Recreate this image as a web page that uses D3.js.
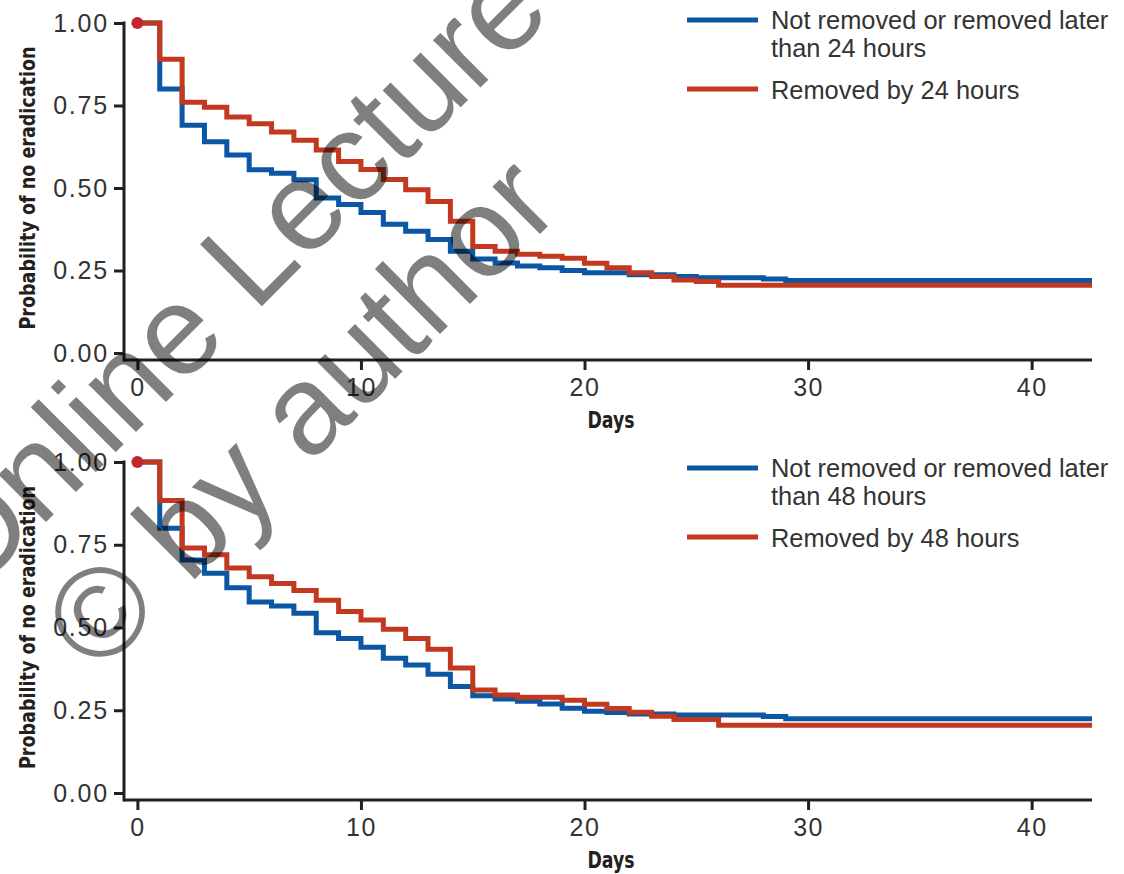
<!DOCTYPE html>
<html>
<head>
<meta charset="utf-8">
<script src="https://cdn.jsdelivr.net/npm/d3@7"></script>
<style>
  body { margin: 0; background: #fff; }
  svg { display: block; }
</style>
</head>
<body>
<div id="chart"></div>
<script>
// Kaplan-Meier step data (one value per day, 0..29)
const days = [0, 1, 2, 3, 4, 5, 6, 7, 8, 9, 10, 11, 12, 13, 14, 15, 16, 17, 18, 19, 20, 21, 22, 23, 24, 25, 26, 27, 28, 29];
const followUpEnd = 42.7;

const notRemoved24 = [1.00, 0.80, 0.69, 0.64, 0.60, 0.555, 0.545, 0.525, 0.47, 0.45, 0.426, 0.39, 0.369, 0.344, 0.308,
  0.285, 0.273, 0.264, 0.258, 0.25, 0.243, 0.243, 0.237, 0.237, 0.232, 0.228, 0.228, 0.228, 0.224, 0.22];
const removed24 = [1.00, 0.89, 0.76, 0.745, 0.715, 0.695, 0.67, 0.645, 0.615, 0.58, 0.556, 0.526, 0.495, 0.459, 0.399,
  0.323, 0.308, 0.299, 0.293, 0.287, 0.272, 0.258, 0.243, 0.232, 0.221, 0.217, 0.205, 0.205, 0.205, 0.205];

const notRemoved48 = [1.00, 0.80, 0.704, 0.664, 0.62, 0.577, 0.565, 0.543, 0.484, 0.467, 0.44, 0.407, 0.387, 0.359, 0.322,
  0.294, 0.284, 0.277, 0.269, 0.256, 0.247, 0.243, 0.239, 0.239, 0.236, 0.236, 0.236, 0.236, 0.231, 0.224];
const removed48 = [1.00, 0.884, 0.74, 0.72, 0.68, 0.653, 0.633, 0.612, 0.582, 0.548, 0.523, 0.495, 0.467, 0.434, 0.378,
  0.311, 0.296, 0.289, 0.289, 0.28, 0.268, 0.255, 0.244, 0.232, 0.222, 0.222, 0.205, 0.205, 0.205, 0.205];

const yTicks = [0, 0.25, 0.5, 0.75, 1];
const xTicks = [0, 10, 20, 30, 40];
const legend24 = ["Not removed or removed later", "than 24 hours", "Removed by 24 hours"];
const legend48 = ["Not removed or removed later", "than 48 hours", "Removed by 48 hours"];

const width = 1124, height = 874;
const blue = "#0b57a3", red = "#c2391f", ink = "#231f20";

const svg = d3.select("#chart").append("svg")
  .attr("width", width)
  .attr("height", height);

const x = d3.scaleLinear().domain([0, followUpEnd]).range([137.4, 1092]);

function toSteps(vals) {
  const pts = days.map((d, i) => [d, vals[i]]);
  pts.push([followUpEnd, vals[vals.length - 1]]);
  return pts;
}

function panel(top, bottom, axisY, legendDy, series, labels) {
  const y = d3.scaleLinear().domain([0, 1]).range([bottom, top]);
  const g = svg.append("g");

  // y axis
  const yAxis = g.append("g")
    .attr("transform", "translate(124,0)")
    .call(d3.axisLeft(y).tickValues(yTicks).tickFormat(d3.format(".2f")).tickSize(10).tickPadding(5));
  yAxis.select(".domain").remove();
  yAxis.selectAll(".tick line").attr("stroke", ink).attr("stroke-width", 3);
  yAxis.selectAll(".tick text")
    .attr("fill", "#333")
    .style("font-family", "'Liberation Sans', Arial, sans-serif")
    .style("font-size", "25px")
    .style("letter-spacing", "1.8px");
  g.append("line")
    .attr("x1", 124).attr("x2", 124)
    .attr("y1", y(1) - 1.5).attr("y2", axisY + 1.5)
    .attr("stroke", ink).attr("stroke-width", 3);

  // x axis
  const xAxis = g.append("g")
    .attr("transform", `translate(0,${axisY})`)
    .call(d3.axisBottom(x).tickValues(xTicks).tickSize(10).tickPadding(8));
  xAxis.select(".domain").remove();
  xAxis.selectAll(".tick line").attr("stroke", ink).attr("stroke-width", 3);
  xAxis.selectAll(".tick text")
    .attr("fill", "#333")
    .style("font-family", "'Liberation Sans', Arial, sans-serif")
    .style("font-size", "25px")
    .style("letter-spacing", "1.5px");
  g.append("line")
    .attr("x1", 124).attr("x2", x(followUpEnd))
    .attr("y1", axisY).attr("y2", axisY)
    .attr("stroke", ink).attr("stroke-width", 3);

  // titles
  g.append("text")
    .attr("transform", `translate(35,${y(0.5)}) rotate(-90)`)
    .attr("text-anchor", "middle")
    .attr("textLength", 283)
    .attr("lengthAdjust", "spacingAndGlyphs")
    .attr("fill", ink)
    .style("font-family", "'Liberation Sans Narrow', 'DejaVu Sans Condensed', sans-serif")
    .style("font-weight", "bold")
    .style("font-size", "21px")
    .text("Probability of no eradication");
  g.append("text")
    .attr("x", 611).attr("y", axisY + 68)
    .attr("text-anchor", "middle")
    .attr("textLength", 47)
    .attr("lengthAdjust", "spacingAndGlyphs")
    .attr("fill", ink)
    .style("font-family", "'Liberation Sans Narrow', 'DejaVu Sans Condensed', sans-serif")
    .style("font-weight", "bold")
    .style("font-size", "23px")
    .text("Days");

  // curves
  const line = d3.line().x(d => x(d[0])).y(d => y(d[1])).curve(d3.curveStepAfter);
  series.forEach(s => {
    g.append("path")
      .datum(toSteps(s.values))
      .attr("d", line)
      .attr("fill", "none")
      .attr("stroke", s.color)
      .attr("stroke-width", 5);
  });
  g.append("circle")
    .attr("cx", x(0)).attr("cy", y(1)).attr("r", 6)
    .attr("fill", "#c1272d");

  // legend
  const lg = g.append("g").attr("transform", `translate(0,${legendDy})`);
  const items = [
    { color: blue, ly: 20, lines: [labels[0], labels[1]], ty: [29, 57] },
    { color: red, ly: 89, lines: [labels[2]], ty: [99] }
  ];
  items.forEach(it => {
    lg.append("line")
      .attr("x1", 687).attr("x2", 758)
      .attr("y1", it.ly).attr("y2", it.ly)
      .attr("stroke", it.color).attr("stroke-width", 5);
    it.lines.forEach((t, i) => {
      lg.append("text")
        .attr("x", 771).attr("y", it.ty[i])
        .attr("fill", "#333")
        .style("font-family", "'Liberation Sans', Arial, sans-serif")
        .style("font-size", "25.4px")
        .text(t);
    });
  });
}

panel(23, 353, 360, 0, [
  { values: notRemoved24, color: blue },
  { values: removed24, color: red }
], legend24);

panel(462, 793, 800, 448, [
  { values: notRemoved48, color: blue },
  { values: removed48, color: red }
], legend48);

// watermark overlay
const wm = svg.append("g")
  .attr("fill", "#000")
  .attr("fill-opacity", 0.5)
  .style("font-family", "'Liberation Sans', Arial, sans-serif")
  .style("font-size", "127px");
wm.append("text")
  .attr("transform", "translate(-30,598) rotate(-45)")
  .text("Online Lecture");
wm.append("text")
  .attr("transform", "translate(98,676) rotate(-45)")
  .text("© by author");
</script>
</body>
</html>
